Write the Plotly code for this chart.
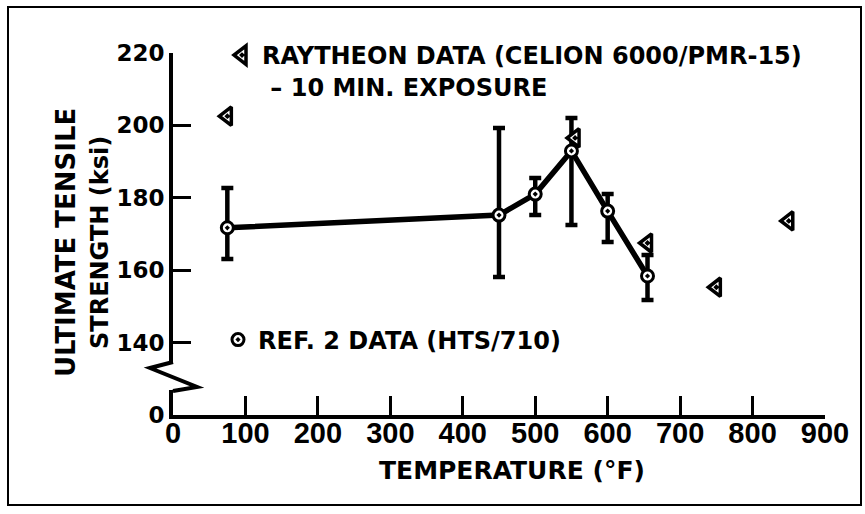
import plotly.graph_objects as go

W, H = 865, 514

# ---- data ----
# Ref. 2 data (HTS/710): mean ultimate tensile strength and scatter band
ref_temp = [75, 450, 500, 550, 600, 655]
ref_uts = [171.7, 175.2, 181.0, 192.9, 176.3, 158.4]
ref_hi = [182.7, 199.2, 185.4, 202.0, 181.0, 164.2]
ref_lo = [163.1, 158.1, 175.2, 172.5, 167.8, 151.8]

# Raytheon data (Celion 6000/PMR-15) - 10 min. exposure
ray_temp = [75, 555, 655, 750, 850]
ray_uts = [202.5, 196.5, 167.5, 155.3, 173.6]

x_ticks = [0, 100, 200, 300, 400, 500, 600, 700, 800, 900]
y_ticks = [140, 160, 180, 200, 220]
y_low_ticks = [0]


def px(x):
    return x / W


def py(y):
    return 1 - y / H


BOLD = dict(family="DejaVu Sans", weight="bold", color="black")

fig = go.Figure()

# connecting line with scatter bars
fig.add_trace(go.Scatter(
    x=ref_temp, y=ref_uts, mode="lines",
    line=dict(color="black", width=5.5),
    error_y=dict(type="data", symmetric=False,
                 array=[h - v for h, v in zip(ref_hi, ref_uts)],
                 arrayminus=[v - l for v, l in zip(ref_uts, ref_lo)],
                 color="black", thickness=4.5, width=6),
    showlegend=False, hoverinfo="skip",
))

# Ref. 2 markers
fig.add_trace(go.Scatter(
    x=ref_temp, y=ref_uts, mode="markers",
    marker=dict(symbol="circle-dot", size=12, color="white",
                line=dict(color="black", width=3)),
    name="REF. 2 DATA (HTS/710)", legend="legend",
))

# Raytheon markers
fig.add_trace(go.Scatter(
    x=ray_temp, y=ray_uts, mode="markers",
    marker=dict(symbol="triangle-left-dot", size=16, color="white",
                line=dict(color="black", width=3.5)),
    name="RAYTHEON DATA (CELION 6000/PMR-15)<br> \u2013 10 MIN. EXPOSURE",
    legend="legend2",
))

# empty trace so the lower (broken) part of the y axis exists
fig.add_trace(go.Scatter(x=[], y=[], xaxis="x", yaxis="y2",
                         showlegend=False, hoverinfo="skip"))

axis_common = dict(showgrid=False, zeroline=False, showline=True,
                   linecolor="black", linewidth=4, ticks="inside",
                   tickcolor="black", tickwidth=3)

fig.update_layout(
    width=W, height=H, autosize=False,
    margin=dict(l=0, r=0, t=0, b=0, autoexpand=False),
    paper_bgcolor="white", plot_bgcolor="rgba(0,0,0,0)",
    xaxis=dict(domain=[px(173), px(825)], range=[0, 900], anchor="y2",
               tickvals=x_ticks, ticklen=19, ticklabelstandoff=-11,
               tickfont=dict(family="Liberation Sans Narrow, Liberation Sans",
                             weight="bold", size=29, color="black"),
               **axis_common),
    yaxis=dict(domain=[py(363), py(52.7)], range=[134.4, 220], anchor="x",
               tickvals=y_ticks, ticklen=18,
               tickfont=dict(size=23, **BOLD), **axis_common),
    yaxis2=dict(domain=[py(415), py(390)], range=[0, 6.9], anchor="x",
                tickvals=y_low_ticks, ticks="",
                tickfont=dict(size=23, **BOLD),
                showgrid=False, zeroline=False, showline=True,
                linecolor="black", linewidth=4),
    legend=dict(x=px(218), y=py(340), xanchor="left", yanchor="middle",
                bgcolor="rgba(0,0,0,0)", font=dict(size=24, **BOLD),
                itemclick=False),
    legend2=dict(x=px(222), y=py(33), xanchor="left", yanchor="top",
                 valign="top", bgcolor="rgba(0,0,0,0)",
                 font=dict(size=24, **BOLD), itemclick=False),
    shapes=[
        # outer frame
        dict(type="rect", xref="paper", yref="paper",
             x0=px(8), x1=px(861), y0=py(505), y1=py(7),
             line=dict(color="black", width=2)),
        # axis break
        dict(type="path", xref="paper", yref="paper",
             path=f"M{px(173)},{py(362)} L{px(150)},{py(368)} "
                  f"L{px(197)},{py(387)} L{px(173)},{py(391)}",
             line=dict(color="black", width=4)),
    ],
    annotations=[
        dict(text="ULTIMATE TENSILE", xref="paper", yref="paper",
             x=px(66), y=py(243), textangle=-90, showarrow=False,
             xanchor="center", yanchor="middle", font=dict(size=26, **BOLD)),
        dict(text="STRENGTH (ksi)", xref="paper", yref="paper",
             x=px(100), y=py(243), textangle=-90, showarrow=False,
             xanchor="center", yanchor="middle", font=dict(size=24, **BOLD)),
        dict(text="TEMPERATURE (\u00b0F)", xref="paper", yref="paper",
             x=px(512), y=py(470), showarrow=False,
             xanchor="center", yanchor="middle", font=dict(size=25, **BOLD)),
    ],
)

fig.write_html("out.html")
